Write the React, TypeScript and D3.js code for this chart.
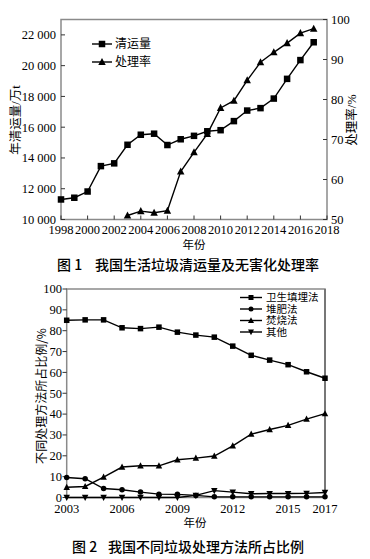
import React from "react";
import * as d3 from "d3";

// Chart 1 data
const years1 = [1998,1999,2000,2001,2002,2003,2004,2005,2006,2007,2008,2009,2010,2011,2012,2013,2014,2015,2016,2017];
const clearance = [11302,11415,11819,13470,13650,14857,15509,15577,14841,15215,15438,15734,15805,16395,17081,17239,17860,19142,20362,21521];
const rateYears = [2003,2004,2005,2006,2007,2008,2009,2010,2011,2012,2013,2014,2015,2016,2017];
const rate = [51.0,52.1,51.7,52.2,62.0,66.8,71.4,77.9,79.7,84.8,89.3,91.8,94.1,96.6,97.7];
const leftTicks = [10000,12000,14000,16000,18000,20000,22000];
const rightTicks = [50,60,70,80,90,100];
const xTicks1 = [1998,2000,2002,2004,2006,2008,2010,2012,2014,2016,2018];

// Chart 2 data
const years2 = [2003,2004,2005,2006,2007,2008,2009,2010,2011,2012,2013,2014,2015,2016,2017];
const landfill = [85.0,85.2,85.2,81.4,81.0,81.7,79.3,77.9,76.9,72.6,68.2,65.9,63.7,60.3,57.2];
const compost = [9.6,9.0,4.3,3.7,2.6,1.6,1.5,1.0,0.3,0.3,0.3,0.3,0.3,0.3,0.3];
const incinerate = [4.9,5.3,9.8,14.6,15.2,15.2,18.1,18.9,19.9,24.8,30.4,32.6,34.6,37.6,40.2];
const other = [0,0,0,0,0,0,0,1.0,3.3,2.6,1.8,1.9,1.9,2.0,2.4];
const xTicks2 = [2003,2006,2009,2012,2015,2017];
const yTicks2 = [0,10,20,30,40,50,60,70,80,90,100];

const serif = "'Liberation Serif', 'Noto Sans CJK SC', serif";
const cjk = "'Noto Sans CJK SC', sans-serif";

function fmt(v: number) {
  const s = String(v);
  return s.length > 3 ? s.slice(0, s.length - 3) + " " + s.slice(-3) : s;
}

function Marker({ type, x, y, s }: { type: string; x: number; y: number; s: number }) {
  if (type === "square") return <rect x={x - s / 2} y={y - s / 2} width={s} height={s} fill="#000" />;
  if (type === "circle") return <circle cx={x} cy={y} r={s / 2} fill="#000" />;
  if (type === "tri") {
    const h = s * 0.9;
    return <path d={`M${x},${y - h * 0.6}L${x + s / 2},${y + h * 0.45}L${x - s / 2},${y + h * 0.45}Z`} fill="#000" />;
  }
  const h = s * 0.9;
  return <path d={`M${x},${y + h * 0.6}L${x + s / 2},${y - h * 0.45}L${x - s / 2},${y - h * 0.45}Z`} fill="#000" />;
}

export default function App() {
  // Chart 1 scales
  const x1 = d3.scaleLinear().domain([1998, 2018]).range([61, 327]);
  const yL = d3.scaleLinear().domain([10000, 23000]).range([219.5, 19.5]);
  const yR = d3.scaleLinear().domain([50, 100]).range([219.5, 19.5]);
  const line = d3.line<[number, number]>().x(d => d[0]).y(d => d[1]);
  const cPts: [number, number][] = years1.map((yr, i) => [x1(yr), yL(clearance[i])]);
  const rPts: [number, number][] = rateYears.map((yr, i) => [x1(yr), yR(rate[i])]);

  // Chart 2 scales
  const x2 = d3.scaleLinear().domain([2003, 2017]).range([66.7, 325]);
  const y2 = d3.scaleLinear().domain([0, 100]).range([497.5, 289]);
  const series2 = [
    { name: "卫生填埋法", vals: landfill, m: "square" },
    { name: "堆肥法", vals: compost, m: "circle" },
    { name: "焚烧法", vals: incinerate, m: "tri" },
    { name: "其他", vals: other, m: "down" },
  ];

  return (
    <svg width={370} height={559} style={{ position: "absolute", left: 0, top: 0, background: "#fff" }}>
      <rect width={370} height={559} fill="#fff" />
      {/* Chart 1 frame */}
      <rect x={x1(1998)} y={19.5} width={x1(2018) - x1(1998)} height={200} fill="none" stroke="#8a8a8a" strokeWidth={1.5} />
      {leftTicks.map(t => (
        <g key={"l" + t}>
          <line x1={61} x2={65} y1={yL(t)} y2={yL(t)} stroke="#333" />
          <text x={56} y={yL(t)} dy="0.35em" textAnchor="end" fontFamily={serif} fontSize={12.5}>{fmt(t)}</text>
        </g>
      ))}
      {rightTicks.map(t => (
        <g key={"r" + t}>
          <line x1={327} x2={323} y1={yR(t)} y2={yR(t)} stroke="#333" />
          <text x={331} y={yR(t)} dy="0.35em" textAnchor="start" fontFamily={serif} fontSize={12.5}>{t}</text>
        </g>
      ))}
      {xTicks1.map(t => (
        <g key={"x" + t}>
          <line x1={x1(t)} x2={x1(t)} y1={219.5} y2={215.5} stroke="#333" />
          <text x={x1(t)} y={234} textAnchor="middle" fontFamily={serif} fontSize={12.5}>{t}</text>
        </g>
      ))}
      <path d={line(cPts) || ""} fill="none" stroke="#000" strokeWidth={1.4} />
      <path d={line(rPts) || ""} fill="none" stroke="#000" strokeWidth={1.4} />
      {cPts.map((p, i) => <Marker key={"c" + i} type="square" x={p[0]} y={p[1]} s={6.5} />)}
      {rPts.map((p, i) => <Marker key={"t" + i} type="tri" x={p[0]} y={p[1]} s={7.5} />)}
      {/* legend 1 */}
      <line x1={92} x2={112} y1={44} y2={44} stroke="#000" strokeWidth={1.4} />
      <Marker type="square" x={102} y={44} s={6.5} />
      <text x={115} y={44} dy="0.35em" fontFamily={cjk} fontSize={12}>清运量</text>
      <line x1={92} x2={112} y1={62} y2={62} stroke="#000" strokeWidth={1.4} />
      <Marker type="tri" x={102} y={62} s={7.5} />
      <text x={115} y={62} dy="0.35em" fontFamily={cjk} fontSize={12}>处理率</text>
      {/* axis titles */}
      <text transform="translate(16,120) rotate(-90)" textAnchor="middle" dy="0.35em" fontFamily={serif} fontSize={12.5}>年清运量/万t</text>
      <text transform="translate(352,120) rotate(-90)" textAnchor="middle" dy="0.35em" fontFamily={serif} fontSize={12.5}>处理率/%</text>
      <text x={194} y={245} dy="0.35em" textAnchor="middle" fontFamily={cjk} fontSize={11.5}>年份</text>
      <text x={57} y={265} dy="0.35em" fontFamily={cjk} fontSize={14} fontWeight={500}>图 1<tspan x={95}>我国生活垃圾清运量及无害化处理率</tspan></text>

      {/* Chart 2 frame */}
      <rect x={66.7} y={289} width={325 - 66.7} height={208.5} fill="none" stroke="#8a8a8a" strokeWidth={1.5} />
      <line x1={325} x2={325} y1={289} y2={497.5} stroke="#777" strokeWidth={2} />
      {yTicks2.map(t => (
        <g key={"y2" + t}>
          <line x1={62.5} x2={66.7} y1={y2(t)} y2={y2(t)} stroke="#333" />
          <text x={62} y={y2(t)} dy="0.35em" textAnchor="end" fontFamily={serif} fontSize={12.5}>{t}</text>
        </g>
      ))}
      {xTicks2.map(t => (
        <text key={"x2" + t} x={x2(t)} y={513} textAnchor="middle" fontFamily={serif} fontSize={12.5}>{t}</text>
      ))}
      {series2.map(s => {
        const pts: [number, number][] = years2.map((yr, i) => [x2(yr), y2(s.vals[i])]);
        return (
          <g key={s.name}>
            <path d={line(pts) || ""} fill="none" stroke="#000" strokeWidth={1.4} />
            {pts.map((p, i) => <Marker key={i} type={s.m} x={p[0]} y={p[1]} s={s.m === "tri" || s.m === "down" ? 6.5 : 5.5} />)}
          </g>
        );
      })}
      {series2.map((s, i) => {
        const ly = 297.5 + i * 11.5;
        return (
          <g key={"lg" + s.name}>
            <line x1={240} x2={262} y1={ly} y2={ly} stroke="#000" strokeWidth={1.4} />
            <Marker type={s.m} x={251} y={ly} s={s.m === "tri" || s.m === "down" ? 6 : 5} />
            <text x={266} y={ly} dy="0.35em" fontFamily={cjk} fontSize={10.5}>{s.name}</text>
          </g>
        );
      })}
      <text transform="translate(42,396) rotate(-90)" textAnchor="middle" dy="0.35em" fontFamily={cjk} fontSize={12}>不同处理方法所占比例/%</text>
      <text x={195} y={523} dy="0.35em" textAnchor="middle" fontFamily={cjk} fontSize={11.5}>年份</text>
      <text x={72} y={547} dy="0.35em" fontFamily={cjk} fontSize={14} fontWeight={500}>图 2<tspan x={108}>我国不同垃圾处理方法所占比例</tspan></text>
    </svg>
  );
}
